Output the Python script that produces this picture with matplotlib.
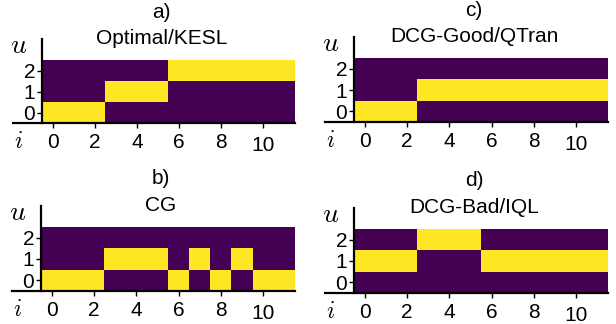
import numpy as np
import matplotlib
matplotlib.use('Agg')
import matplotlib.pyplot as plt
from matplotlib.lines import Line2D

plt.rcParams['font.family'] = ['Liberation Sans', 'DejaVu Sans']
plt.rcParams['mathtext.fontset'] = 'cm'

# ---- data ----
steps = list(range(12))          # i
actions = [0, 1, 2]              # u
xticks = [0, 2, 4, 6, 8, 10]
panel_letters = ['a)', 'b)', 'c)', 'd)']
panel_names = ['Optimal/KESL', 'CG', 'DCG-Good/QTran', 'DCG-Bad/IQL']
optimal_kesl = [0, 0, 0, 1, 1, 1, 2, 2, 2, 2, 2, 2]
cg = [0, 0, 0, 1, 1, 1, 0, 1, 0, 1, 0, 0]
dcg_good_qtran = [0, 0, 0, 1, 1, 1, 1, 1, 1, 1, 1, 1]
dcg_bad_iql = [1, 1, 1, 2, 2, 2, 1, 1, 1, 1, 1, 1]
series = [optimal_kesl, cg, dcg_good_qtran, dcg_bad_iql]

# ---- layout (pixels: left, top, right, bottom) ----
W, H = 616, 324
boxes = [(42, 60, 295, 123), (41, 227, 295, 291),
         (354, 58, 608, 122), (354, 229, 608, 293)]

fig = plt.figure(figsize=(W / 100, H / 100), dpi=100)

def px(x, y):
    return x / W, 1 - y / H

for (l, t, r, b), seq, letter, name in zip(boxes, series, panel_letters, panel_names):
    ax = fig.add_axes([l / W, 1 - b / H, (r - l) / W, (b - t) / H])
    M = np.zeros((len(actions), len(steps)))
    M[np.array(seq), np.array(steps)] = 1
    ax.imshow(M, cmap='viridis', origin='lower', aspect='auto',
              interpolation='nearest', vmin=0, vmax=1)
    ax.set_xticks(xticks)
    ax.set_yticks(actions)
    for s in ax.spines.values():
        s.set_visible(False)
    ax.tick_params(labelsize=15, length=3.5, width=1, color='black')
    ax.tick_params(axis='x', pad=4)
    ax.tick_params(axis='y', pad=1.5)
    for lab in ax.get_xticklabels():
        if lab.get_text() == '10':
            lab.set_y(-0.04)
    # extended spines
    x0, y0 = px(l, t - 21)
    x1, y1 = px(l, b)
    fig.add_artist(Line2D([x0, x1], [y0, y1], color='black', lw=1.6,
                          transform=fig.transFigure))
    x0, y0 = px(l - 29, b)
    x1, y1 = px(r, b)
    fig.add_artist(Line2D([x0, x1], [y0, y1], color='black', lw=1.6,
                          transform=fig.transFigure))
    # axis symbols
    fig.text(*px(l - 23, t - 14), r'$u$', fontsize=20, ha='center', va='center')
    fig.text(*px(l - 24, b + 19), r'$i$', fontsize=17, ha='center', va='center')
    # titles
    cx = (l + r) / 2 - 7
    fig.text(*px(cx, t - 48), letter, fontsize=15, ha='center', va='center')
    fig.text(*px(cx, t - 21.5), name, fontsize=15, ha='center', va='center')

fig.savefig('out.png', dpi=100)
